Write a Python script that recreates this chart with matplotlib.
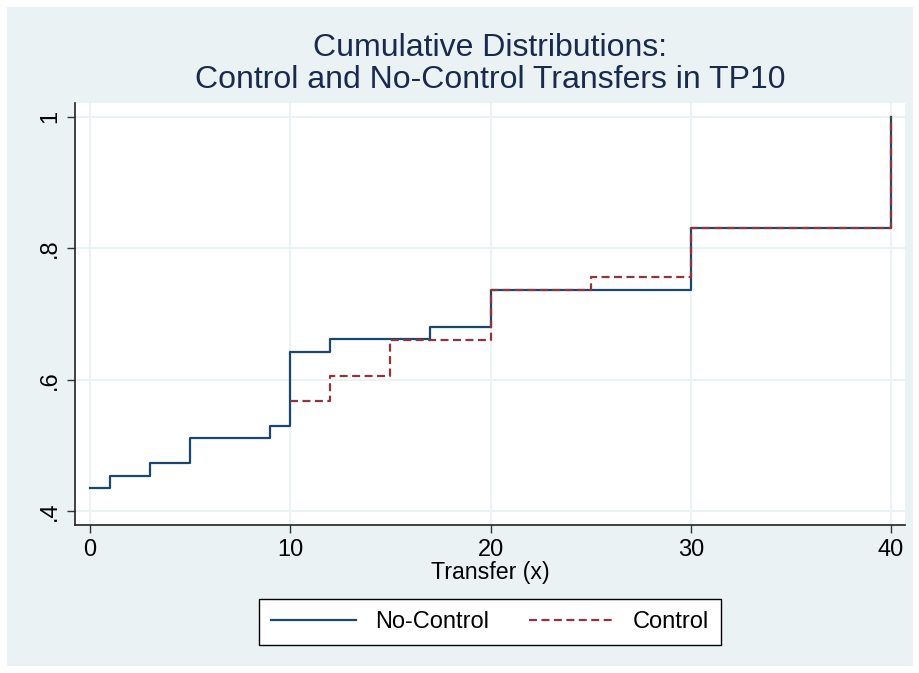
import numpy as np
import matplotlib
matplotlib.use("Agg")
import matplotlib.pyplot as plt
from matplotlib.patches import Rectangle

plt.rcParams['font.family'] = ['Liberation Sans', 'DejaVu Sans']

# step values
nc_x = [0, 1, 3, 5, 9, 10, 12, 17, 20, 30, 40]
nc_y = [0.435, 0.453, 0.473, 0.511, 0.529, 0.642, 0.662, 0.680, 0.737, 0.831, 1.0]

c_x = [10, 12, 15, 20, 25, 30, 40]
c_y = [0.567, 0.606, 0.660, 0.737, 0.756, 0.831, 1.0]

xticks = [0, 10, 20, 30, 40]
yticks = [0.4, 0.6, 0.8, 1.0]
ylabels = ['.4', '.6', '.8', '1']

navy = '#1a476f'
maroon = '#90353b'
bg = '#eaf2f3'

fig = plt.figure(figsize=(9.2, 6.73), dpi=100, facecolor='white')
fig.patches.append(Rectangle((7/920, 7/673), 906/920, 659/673, transform=fig.transFigure,
                             facecolor=bg, edgecolor='none', zorder=-1))

ax = fig.add_axes([75/920, 1 - 525/673, 830/920, 422/673])
ax.set_facecolor('white')

ax.step(nc_x, nc_y, where='post', color=navy, lw=1.6, label='No-Control', zorder=3)
ax.step(c_x, c_y, where='post', color=maroon, lw=1.6, ls=(0, (3.6, 2.0)), label='Control', zorder=4)

ax.set_xlim(-0.75, 40.7)
ax.set_ylim(0.379, 1.021)
ax.set_xticks(xticks)
ax.set_yticks(yticks)
ax.set_yticklabels(ylabels, rotation=90, va='center')
ax.tick_params(axis='both', labelsize=17, length=6, width=1, color='#333333', pad=4)
ax.grid(True, color=bg, lw=1.5, zorder=0)
ax.set_axisbelow(True)
for s in ['top', 'right']:
    ax.spines[s].set_visible(False)
for s in ['left', 'bottom']:
    ax.spines[s].set_color('#222222')
    ax.spines[s].set_linewidth(1.2)

ax.set_xlabel('Transfer (x)', fontsize=16.7, labelpad=0)

fig.text(490/920, 1 - 48/673, 'Cumulative Distributions:', ha='center', va='center',
         fontsize=23, color='#1a2a4f')
fig.text(490/920, 1 - 80/673, 'Control and No-Control Transfers in TP10', ha='center', va='center',
         fontsize=23, color='#1a2a4f')

leg = fig.legend(loc='center', bbox_to_anchor=(490/920, 1 - 622/673), ncol=2, fontsize=17,
                 frameon=True, fancybox=False, edgecolor='black', framealpha=1, handlelength=3.6,
                 columnspacing=1.7, borderpad=0.5, handletextpad=0.8, borderaxespad=0)
leg.get_frame().set_linewidth(1.0)

fig.savefig('out.png', dpi=100, facecolor='white')
